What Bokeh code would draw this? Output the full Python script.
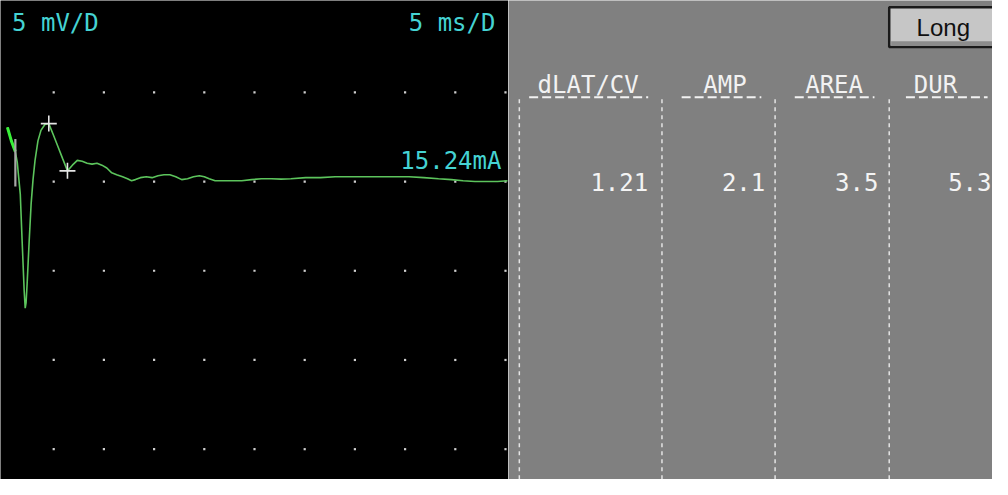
from bokeh.plotting import figure
from bokeh.layouts import row
from bokeh.models import Range1d, Label
from bokeh.core.properties import value
from bokeh.embed import file_html
from bokeh.resources import INLINE

# ---------------- data ----------------
time_ms = [0.39, 0.78, 1.18, 1.37, 1.67, 1.86, 2.06, 2.16, 2.25, 2.35, 2.55, 2.75, 2.94,
           3.14, 3.43, 3.73, 4.12, 4.51, 4.90, 5.39, 5.88, 6.37, 6.86, 7.35, 7.84, 8.33,
           8.82, 9.31, 9.80, 10.29, 10.78, 11.27, 11.86, 12.35, 12.75, 13.14, 13.63, 14.22,
           14.80, 15.39, 15.98, 16.57, 17.16, 17.75, 18.33, 18.92, 19.51, 20.00, 20.49,
           21.08, 21.86, 22.75, 23.73, 24.71, 25.69, 26.67, 27.65, 28.63, 30.10, 31.57,
           33.04, 34.51, 35.98, 37.45, 38.92, 40.39, 41.86, 43.33, 44.61, 45.78, 46.96,
           48.24, 49.22, 50.20]
amp_mv = [3.04, 2.28, 1.68, 1.08, -0.70, -3.41, -6.13, -7.10, -6.78, -5.75, -3.41, -1.25, 0.11,
          1.19, 2.28, 2.87, 3.20, 3.25, 2.71, 2.01, 1.30, 0.60, 0.92, 1.19, 1.14, 1.03,
          0.98, 1.03, 0.92, 0.76, 0.49, 0.38, 0.27, 0.16, 0.05, 0.11, 0.22, 0.27,
          0.22, 0.33, 0.38, 0.38, 0.27, 0.11, 0.16, 0.27, 0.33, 0.27, 0.16,
          0.05, 0.05, 0.05, 0.05, 0.11, 0.16, 0.16, 0.14, 0.16, 0.22, 0.22,
          0.27, 0.27, 0.27, 0.27, 0.27, 0.27, 0.22, 0.16, 0.11, 0.05, 0.00,
          0.00, 0.00, 0.05]
marker_t = [4.51, 6.37]
marker_v = [3.25, 0.60]
cursor_t = [1.18, 1.18]
cursor_v = [2.38, -0.27]
grid_t = [5, 10, 15, 20, 25, 30, 35, 40, 45, 50]
grid_v = [5, 0, -5, -10, -15]

gain_label = "5 mV/D"
sweep_label = "5 ms/D"
stim_label = "15.24mA"
mode_label = "Long"
columns = ["dLAT/CV", "AMP", "AREA", "DUR"]
values = ["1.21", "2.1", "3.5", "5.3"]

# ---------------- layout / style ----------------
W, H = 992, 479
SX = 992 / 1008
FONT = "DejaVu Sans Mono"
CYAN = "#45d3d3"
TRACE = "#5cc45c"
LEFT_W = round(516 * SX)
RIGHT_W = W - LEFT_W
FS = "24px"

# --------- oscilloscope panel ---------
p = figure(width=LEFT_W, height=H, output_backend="svg", toolbar_location=None,
           x_range=Range1d(-0.3, 50.3), y_range=Range1d(-16.7, 10.15),
           min_border=0, background_fill_color="black", border_fill_color="black",
           outline_line_color=None)
p.axis.visible = False
p.grid.visible = False

gx = [t for v in grid_v for t in grid_t]
gy = [v for v in grid_v for t in grid_t]
p.scatter(gx, gy, marker="square", size=2.2, fill_color="#cfcfcf", line_color=None)

p.line(time_ms, amp_mv, line_color=TRACE, line_width=1.6)
p.line(time_ms[:3], amp_mv[:3], line_color="#38f038", line_width=3)
p.line(cursor_t, cursor_v, line_color="#a8a8a8", line_width=2.2)
p.scatter(marker_t, marker_v, marker="cross", size=16, line_color="#e6e6e6", line_width=1.6)

p.add_layout(Label(x=0.85, y=8.9, text=gain_label, text_font=FONT,
                   text_font_size=FS, text_color=CYAN, text_baseline="middle"))
p.add_layout(Label(x=49.0, y=8.9, text=sweep_label, text_font=FONT,
                   text_font_size=FS, text_color=CYAN, text_baseline="middle",
                   text_align="right"))
p.add_layout(Label(x=49.6, y=1.15, text=stim_label, text_font=FONT,
                   text_font_size=FS, text_color=CYAN, text_baseline="middle",
                   text_align="right"))

# --------- measurement table panel ---------
q = figure(width=RIGHT_W, height=H, output_backend="svg", toolbar_location=None,
           x_range=Range1d(516, 1008), y_range=Range1d(495, 0),
           min_border=0, background_fill_color="#808080", border_fill_color="#808080",
           outline_line_color=None)
q.axis.visible = False
q.grid.visible = False

# button
q.quad(left=[903], right=[1012], top=[7], bottom=[48], fill_color="#c6c6c6",
       line_color="#1a1a1a", line_width=2.5)
q.quad(left=[905], right=[1012], top=[42], bottom=[47], fill_color="#8c8c8c",
       line_color=None)
q.text(x=[958], y=[27.5], text=[mode_label], text_font=value("Liberation Sans"),
       text_font_size="24px", text_color="#101010", text_align="center",
       text_baseline="middle")

sep_x = [527, 672, 787, 903]
for sx in sep_x:
    q.line([sx, sx], [102, 495], line_color="#e4e4e4", line_width=1.5, line_dash="4 4")

head_x = [597, 736, 847, 950]
q.text(x=head_x, y=[87] * 4, text=columns, text_font=value(FONT), text_font_size=FS,
       text_color="#f2f2f2", text_align="center", text_baseline="middle")
ul = [(537, 658), (692, 773), (807, 888), (920, 1003)]
for a, b in ul:
    q.line([a, b], [100, 100], line_color="#f2f2f2", line_width=2, line_dash="9 4")

val_x = [658, 777, 892, 1007]
q.text(x=val_x, y=[188] * 4, text=values, text_font=value(FONT), text_font_size=FS,
       text_color="#f4f4f4", text_align="right", text_baseline="middle")

layout = row(p, q)
open("out.html", "w").write(file_html(layout, INLINE))
